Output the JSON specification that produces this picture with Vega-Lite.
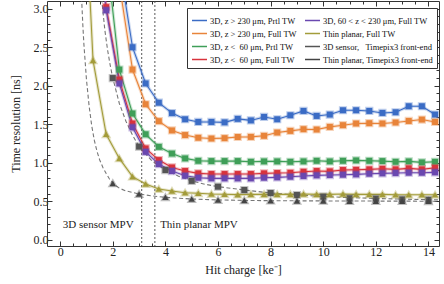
{
  "$schema": "https://vega.github.io/schema/vega-lite/v6.json",
  "width": 392,
  "height": 245,
  "autosize": {"type": "none"},
  "padding": {"left": 47, "top": 1, "right": 5, "bottom": 38},
  "background": "white",
  "config": {
    "font": "Liberation Serif",
    "view": {"stroke": null},
    "axis": {"labelFont": "Liberation Serif", "titleFont": "Liberation Serif", "labelFontSize": 12, "titleFontSize": 12, "labelColor": "#222", "titleColor": "#222", "titleFontWeight": "normal", "grid": false, "domainColor": "#333", "tickColor": "#333", "labelFlush": false}
  },
  "datasets": {
    "pts": [
      {"s":"A","x":2.25,"y":3.58},{"s":"A","x":2.75,"y":2.5},{"s":"A","x":3.25,"y":2.03},{"s":"A","x":3.75,"y":1.78},{"s":"A","x":4.25,"y":1.645},{"s":"A","x":4.75,"y":1.565},{"s":"A","x":5.25,"y":1.53},{"s":"A","x":5.75,"y":1.53},{"s":"A","x":6.25,"y":1.525},{"s":"A","x":6.75,"y":1.57},{"s":"A","x":7.25,"y":1.55},{"s":"A","x":7.75,"y":1.595},{"s":"A","x":8.25,"y":1.565},{"s":"A","x":8.75,"y":1.617},{"s":"A","x":9.25,"y":1.673},{"s":"A","x":9.75,"y":1.608},{"s":"A","x":10.25,"y":1.626},{"s":"A","x":10.75,"y":1.682},{"s":"A","x":11.25,"y":1.682},{"s":"A","x":11.75,"y":1.673},{"s":"A","x":12.25,"y":1.647},{"s":"A","x":12.75,"y":1.656},{"s":"A","x":13.25,"y":1.734},{"s":"A","x":13.75,"y":1.734},{"s":"A","x":14.25,"y":1.626},
      {"s":"B","x":2.25,"y":3.32},{"s":"B","x":2.75,"y":2.21},{"s":"B","x":3.25,"y":1.76},{"s":"B","x":3.75,"y":1.54},{"s":"B","x":4.25,"y":1.42},{"s":"B","x":4.75,"y":1.36},{"s":"B","x":5.25,"y":1.325},{"s":"B","x":5.75,"y":1.315},{"s":"B","x":6.25,"y":1.32},{"s":"B","x":6.75,"y":1.335},{"s":"B","x":7.25,"y":1.336},{"s":"B","x":7.75,"y":1.35},{"s":"B","x":8.25,"y":1.393},{"s":"B","x":8.75,"y":1.414},{"s":"B","x":9.25,"y":1.436},{"s":"B","x":9.75,"y":1.432},{"s":"B","x":10.25,"y":1.466},{"s":"B","x":10.75,"y":1.488},{"s":"B","x":11.25,"y":1.51},{"s":"B","x":11.75,"y":1.514},{"s":"B","x":12.25,"y":1.51},{"s":"B","x":12.75,"y":1.523},{"s":"B","x":13.25,"y":1.543},{"s":"B","x":13.75,"y":1.561},{"s":"B","x":14.25,"y":1.53},
      {"s":"C","x":1.75,"y":3.74},{"s":"C","x":2.25,"y":2.21},{"s":"C","x":2.75,"y":1.64},{"s":"C","x":3.25,"y":1.37},{"s":"C","x":3.75,"y":1.207},{"s":"C","x":4.25,"y":1.12},{"s":"C","x":4.75,"y":1.057},{"s":"C","x":5.25,"y":1.026},{"s":"C","x":5.75,"y":1.022},{"s":"C","x":6.25,"y":1.022},{"s":"C","x":6.75,"y":1.022},{"s":"C","x":7.25,"y":1.013},{"s":"C","x":7.75,"y":1.018},{"s":"C","x":8.25,"y":1.018},{"s":"C","x":8.75,"y":1.013},{"s":"C","x":9.25,"y":1.018},{"s":"C","x":9.75,"y":1.026},{"s":"C","x":10.25,"y":1.018},{"s":"C","x":10.75,"y":1.026},{"s":"C","x":11.25,"y":1.031},{"s":"C","x":11.75,"y":1.026},{"s":"C","x":12.25,"y":1.022},{"s":"C","x":12.75,"y":1.013},{"s":"C","x":13.25,"y":1.018},{"s":"C","x":13.75,"y":1.005},{"s":"C","x":14.25,"y":1.013},
      {"s":"D","x":1.25,"y":4.6},{"s":"D","x":1.75,"y":3.02},{"s":"D","x":2.25,"y":2.08},{"s":"D","x":2.75,"y":1.51},{"s":"D","x":3.25,"y":1.186},{"s":"D","x":3.75,"y":1.035},{"s":"D","x":4.25,"y":0.94},{"s":"D","x":4.75,"y":0.893},{"s":"D","x":5.25,"y":0.863},{"s":"D","x":5.75,"y":0.854},{"s":"D","x":6.25,"y":0.854},{"s":"D","x":6.75,"y":0.854},{"s":"D","x":7.25,"y":0.854},{"s":"D","x":7.75,"y":0.863},{"s":"D","x":8.25,"y":0.867},{"s":"D","x":8.75,"y":0.871},{"s":"D","x":9.25,"y":0.884},{"s":"D","x":9.75,"y":0.893},{"s":"D","x":10.25,"y":0.889},{"s":"D","x":10.75,"y":0.906},{"s":"D","x":11.25,"y":0.909},{"s":"D","x":11.75,"y":0.915},{"s":"D","x":12.25,"y":0.922},{"s":"D","x":12.75,"y":0.915},{"s":"D","x":13.25,"y":0.928},{"s":"D","x":13.75,"y":0.915},{"s":"D","x":14.25,"y":0.935},
      {"s":"E","x":1.25,"y":4.5},{"s":"E","x":1.75,"y":2.98},{"s":"E","x":2.25,"y":2.03},{"s":"E","x":2.75,"y":1.46},{"s":"E","x":3.25,"y":1.142},{"s":"E","x":3.75,"y":0.983},{"s":"E","x":4.25,"y":0.893},{"s":"E","x":4.75,"y":0.832},{"s":"E","x":5.25,"y":0.806},{"s":"E","x":5.75,"y":0.798},{"s":"E","x":6.25,"y":0.798},{"s":"E","x":6.75,"y":0.798},{"s":"E","x":7.25,"y":0.798},{"s":"E","x":7.75,"y":0.806},{"s":"E","x":8.25,"y":0.811},{"s":"E","x":8.75,"y":0.819},{"s":"E","x":9.25,"y":0.828},{"s":"E","x":9.75,"y":0.837},{"s":"E","x":10.25,"y":0.841},{"s":"E","x":10.75,"y":0.845},{"s":"E","x":11.25,"y":0.85},{"s":"E","x":11.75,"y":0.858},{"s":"E","x":12.25,"y":0.863},{"s":"E","x":12.75,"y":0.867},{"s":"E","x":13.25,"y":0.871},{"s":"E","x":13.75,"y":0.871},{"s":"E","x":14.25,"y":0.876},
      {"s":"F","x":0.75,"y":5.8},{"s":"F","x":1.25,"y":2.33},{"s":"F","x":1.75,"y":1.37},{"s":"F","x":2.25,"y":1.057},{"s":"F","x":2.75,"y":0.82},{"s":"F","x":3.25,"y":0.724},{"s":"F","x":3.75,"y":0.66},{"s":"F","x":4.25,"y":0.634},{"s":"F","x":4.75,"y":0.612},{"s":"F","x":5.25,"y":0.604},{"s":"F","x":5.75,"y":0.595},{"s":"F","x":6.25,"y":0.591},{"s":"F","x":6.75,"y":0.587},{"s":"F","x":7.25,"y":0.59},{"s":"F","x":7.75,"y":0.59},{"s":"F","x":8.25,"y":0.59},{"s":"F","x":8.75,"y":0.59},{"s":"F","x":9.25,"y":0.595},{"s":"F","x":9.75,"y":0.59},{"s":"F","x":10.25,"y":0.59},{"s":"F","x":10.75,"y":0.595},{"s":"F","x":11.25,"y":0.59},{"s":"F","x":11.75,"y":0.59},{"s":"F","x":12.25,"y":0.59},{"s":"F","x":12.75,"y":0.585},{"s":"F","x":13.25,"y":0.585},{"s":"F","x":13.75,"y":0.585},{"s":"F","x":14.25,"y":0.585},
      {"s":"G","x":2,"y":2.1},{"s":"G","x":3,"y":1.21},{"s":"G","x":4,"y":0.906},{"s":"G","x":5,"y":0.765},{"s":"G","x":6,"y":0.69},{"s":"G","x":7,"y":0.647},{"s":"G","x":8,"y":0.608},{"s":"G","x":9,"y":0.582},{"s":"G","x":10,"y":0.56},{"s":"G","x":11,"y":0.54},{"s":"G","x":12,"y":0.535},{"s":"G","x":13,"y":0.525},{"s":"G","x":14,"y":0.52},
      {"s":"H","x":2,"y":0.733},{"s":"H","x":3,"y":0.595},{"s":"H","x":4,"y":0.552},{"s":"H","x":5,"y":0.53},{"s":"H","x":6,"y":0.517},{"s":"H","x":7,"y":0.512},{"s":"H","x":8,"y":0.508},{"s":"H","x":9,"y":0.505},{"s":"H","x":10,"y":0.505},{"s":"H","x":11,"y":0.503},{"s":"H","x":12,"y":0.503},{"s":"H","x":13,"y":0.502},{"s":"H","x":14,"y":0.5}
    ],
    "fit": [
      {"s":"G","x":1.55,"y":3.3},{"s":"G","x":1.6,"y":3.05},{"s":"G","x":1.7,"y":2.72},{"s":"G","x":1.8,"y":2.47},{"s":"G","x":1.9,"y":2.27},{"s":"G","x":2.0,"y":2.1},{"s":"G","x":2.25,"y":1.77},{"s":"G","x":2.5,"y":1.54},{"s":"G","x":2.75,"y":1.36},{"s":"G","x":3.0,"y":1.21},{"s":"G","x":3.5,"y":1.02},{"s":"G","x":4.0,"y":0.906},{"s":"G","x":4.5,"y":0.826},{"s":"G","x":5.0,"y":0.765},{"s":"G","x":5.5,"y":0.722},{"s":"G","x":6.0,"y":0.69},{"s":"G","x":7.0,"y":0.647},{"s":"G","x":8.0,"y":0.608},{"s":"G","x":9.0,"y":0.583},{"s":"G","x":10.0,"y":0.563},{"s":"G","x":11.0,"y":0.548},{"s":"G","x":12.0,"y":0.537},{"s":"G","x":13.0,"y":0.528},{"s":"G","x":14.0,"y":0.521},{"s":"G","x":14.4,"y":0.519},
      {"s":"H","x":0.78,"y":3.4},{"s":"H","x":0.82,"y":3.1},{"s":"H","x":0.86,"y":2.8},{"s":"H","x":0.9,"y":2.55},{"s":"H","x":1.0,"y":2.08},{"s":"H","x":1.1,"y":1.74},{"s":"H","x":1.2,"y":1.48},{"s":"H","x":1.3,"y":1.29},{"s":"H","x":1.4,"y":1.15},{"s":"H","x":1.5,"y":1.04},{"s":"H","x":1.625,"y":0.94},{"s":"H","x":1.75,"y":0.86},{"s":"H","x":1.875,"y":0.79},{"s":"H","x":2.0,"y":0.733},{"s":"H","x":2.25,"y":0.67},{"s":"H","x":2.5,"y":0.635},{"s":"H","x":3.0,"y":0.595},{"s":"H","x":3.5,"y":0.57},{"s":"H","x":4.0,"y":0.552},{"s":"H","x":5.0,"y":0.53},{"s":"H","x":6.0,"y":0.518},{"s":"H","x":7.0,"y":0.512},{"s":"H","x":8.0,"y":0.508},{"s":"H","x":10.0,"y":0.505},{"s":"H","x":12.0,"y":0.503},{"s":"H","x":14.4,"y":0.501}
    ],
    "vl": [{"v": 3.1}, {"v": 3.6}],
    "txt": [{"x": 0.1, "y": 0.19, "t": "3D sensor MPV"}, {"x": 3.8, "y": 0.19, "t": "Thin planar MPV"}]
  },
  "layer": [
    {
      "data": {"name": "vl"},
      "mark": {"type": "rule", "strokeDash": [2, 2], "color": "#444", "strokeWidth": 0.9},
      "encoding": {
        "x": {"field": "v", "type": "quantitative", "scale": {"domain": [-0.5, 14.4], "nice": false, "zero": false},
              "axis": {"orient": "top", "values": [0,0.5,1,1.5,2,2.5,3,3.5,4,4.5,5,5.5,6,6.5,7,7.5,8,8.5,9,9.5,10,10.5,11,11.5,12,12.5,13,13.5,14], "tickSize": -3, "labels": false, "domain": false, "title": null}}
      }
    },
    {
      "data": {"name": "fit"},
      "mark": {"type": "line", "clip": true, "strokeDash": [4, 2.5], "color": "#777", "strokeWidth": 1.1},
      "encoding": {
        "x": {"field": "x", "type": "quantitative", "scale": {"domain": [-0.5, 14.4], "nice": false, "zero": false},
              "axis": {"orient": "bottom", "values": [0,2,4,6,8,10,12,14], "format": "d", "tickSize": -5, "labelPadding": 5, "title": "Hit charge [ke⁻]", "titlePadding": 7}},
        "y": {"field": "y", "type": "quantitative", "scale": {"domain": [-0.08, 3.1], "nice": false, "zero": false},
              "axis": {"orient": "left", "values": [0,0.5,1,1.5,2,2.5,3], "format": ".1f", "tickSize": -5, "labelPadding": 4, "title": "Time resolution [ns]", "titlePadding": 11}},
        "detail": {"field": "s"}
      }
    },
    {
      "data": {"name": "pts"},
      "transform": [{"filter": "datum.s != 'G' && datum.s != 'H'"}],
      "mark": {"type": "line", "clip": true, "strokeWidth": 3.2, "strokeOpacity": 0.25},
      "encoding": {
        "x": {"field": "x", "type": "quantitative", "scale": {"domain": [-0.5, 14.4], "nice": false, "zero": false},
              "axis": {"orient": "bottom", "values": [0,0.5,1,1.5,2,2.5,3,3.5,4,4.5,5,5.5,6,6.5,7,7.5,8,8.5,9,9.5,10,10.5,11,11.5,12,12.5,13,13.5,14], "tickSize": -3, "labels": false, "domain": false, "title": null}},
        "y": {"field": "y", "type": "quantitative", "scale": {"domain": [-0.08, 3.1], "nice": false, "zero": false},
              "axis": {"orient": "left", "values": [0,0.1,0.2,0.3,0.4,0.5,0.6,0.7,0.8,0.9,1,1.1,1.2,1.3,1.4,1.5,1.6,1.7,1.8,1.9,2,2.1,2.2,2.3,2.4,2.5,2.6,2.7,2.8,2.9,3], "tickSize": -3, "labels": false, "domain": false, "title": null}},
        "color": {"field": "s", "type": "nominal", "scale": {"domain": ["A","B","C","D","E","F","G","H"], "range": ["#3b6cc5","#e8843a","#3f9f58","#d8333c","#6a48b0","#a39c3a","#555555","#444444"]}}
      }
    },
    {
      "data": {"name": "pts"},
      "transform": [{"filter": "datum.s != 'G' && datum.s != 'H'"}],
      "mark": {"type": "line", "clip": true, "strokeWidth": 1.1},
      "encoding": {
        "x": {"field": "x", "type": "quantitative", "scale": {"domain": [-0.5, 14.4], "nice": false, "zero": false},
              "axis": {"orient": "top", "values": [0,2,4,6,8,10,12,14], "tickSize": -5, "labels": false, "title": null}},
        "y": {"field": "y", "type": "quantitative", "scale": {"domain": [-0.08, 3.1], "nice": false, "zero": false},
              "axis": {"orient": "right", "values": [0,0.5,1,1.5,2,2.5,3], "tickSize": -5, "labels": false, "title": null}},
        "color": {"field": "s", "type": "nominal"}
      }
    },
    {
      "data": {"name": "pts"},
      "transform": [{"filter": "datum.s != 'F' && datum.s != 'H'"}],
      "mark": {"type": "point", "shape": "square", "filled": true, "clip": true, "opacity": 1, "strokeWidth": 2.2, "strokeOpacity": 0.35, "size": 36},
      "encoding": {
        "x": {"field": "x", "type": "quantitative", "scale": {"domain": [-0.5, 14.4], "nice": false, "zero": false},
              "axis": null},
        "y": {"field": "y", "type": "quantitative", "scale": {"domain": [-0.08, 3.1], "nice": false, "zero": false},
              "axis": {"orient": "right", "values": [0,0.1,0.2,0.3,0.4,0.5,0.6,0.7,0.8,0.9,1,1.1,1.2,1.3,1.4,1.5,1.6,1.7,1.8,1.9,2,2.1,2.2,2.3,2.4,2.5,2.6,2.7,2.8,2.9,3], "tickSize": -3, "labels": false, "domain": false, "title": null}},
        "color": {"field": "s", "type": "nominal",
          "legend": {
            "orient": "none", "legendX": 140, "legendY": 7, "columns": 2, "columnPadding": 5, "rowPadding": 0,
            "padding": 4, "strokeColor": "#333", "fillColor": "white", "cornerRadius": 0, "title": null,
            "labelFont": "Liberation Serif", "labelFontSize": 8.5, "labelColor": "#111", "labelLimit": 0, "labelOffset": 2,
            "symbolSize": 225,
            "labelExpr": "datum.label == 'A' ? '3D, z > 230 μm, Prtl TW' : datum.label == 'B' ? '3D, z > 230 μm, Full TW' : datum.label == 'C' ? '3D, z <\u00a0\u00a060 μm, Prtl TW' : datum.label == 'D' ? '3D, z <\u00a0\u00a060 μm, Full TW' : datum.label == 'E' ? '3D, 60 < z < 230 μm, Full TW' : datum.label == 'F' ? 'Thin planar, Full TW' : datum.label == 'G' ? '3D sensor,\u00a0\u00a0\u00a0Timepix3 front-end' : 'Thin planar, Timepix3 front-end'",
            "encode": {"symbols": {
              "shape": {"value": {"expr": "(datum.value == 'F' || datum.value == 'H') ? 'M-1,0H1M0,-0.42L0.45,0.32L-0.45,0.32Z' : 'M-1,0H1M-0.36,-0.36H0.36V0.36H-0.36Z'"}},
              "fill": {"value": {"expr": "scale('color', datum.value)"}},
              "stroke": {"value": {"expr": "scale('color', datum.value)"}},
              "strokeDash": {"value": {"expr": "(datum.value == 'G' || datum.value == 'H') ? [2.5, 1.5] : [1, 0]"}},
              "strokeWidth": {"value": 1.1},
              "opacity": {"value": 1},
              "fillOpacity": {"value": 1},
              "strokeOpacity": {"value": 1}
            }}
          }},
        "stroke": {"field": "s", "type": "nominal", "legend": null, "scale": {"domain": ["A","B","C","D","E","F","G","H"], "range": ["#3b6cc5","#e8843a","#3f9f58","#d8333c","#6a48b0","#a39c3a","#555555","#444444"]}}
      }
    },
    {
      "data": {"name": "pts"},
      "transform": [{"filter": "datum.s == 'F' || datum.s == 'H'"}],
      "mark": {"type": "point", "shape": "triangle-up", "filled": true, "clip": true, "opacity": 1, "strokeWidth": 2.2, "strokeOpacity": 0.35, "size": 42},
      "encoding": {
        "x": {"field": "x", "type": "quantitative", "scale": {"domain": [-0.5, 14.4], "nice": false, "zero": false}, "axis": null},
        "y": {"field": "y", "type": "quantitative", "scale": {"domain": [-0.08, 3.1], "nice": false, "zero": false}, "axis": null},
        "color": {"field": "s", "type": "nominal"},
        "stroke": {"field": "s", "type": "nominal", "legend": null}
      }
    },
    {
      "data": {"name": "txt"},
      "mark": {"type": "text", "align": "left", "baseline": "middle", "fontSize": 11, "font": "Liberation Serif", "color": "#222"},
      "encoding": {
        "x": {"field": "x", "type": "quantitative", "axis": null},
        "y": {"field": "y", "type": "quantitative", "axis": null},
        "text": {"field": "t"}
      }
    }
  ],
  "resolve": {"axis": {"x": "independent", "y": "independent"}}
}
